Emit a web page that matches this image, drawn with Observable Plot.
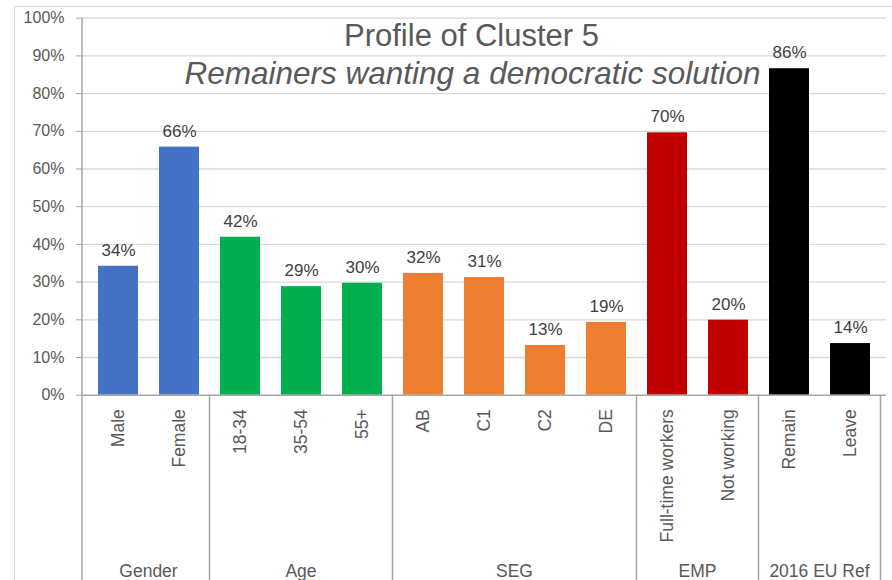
<!DOCTYPE html>
<html><head><meta charset="utf-8">
<script src="https://cdn.jsdelivr.net/npm/d3@7"></script>
<script src="https://cdn.jsdelivr.net/npm/@observablehq/plot@0.6"></script>
<style>
body{margin:0;background:#fff;}
#wrap{position:relative;width:892px;height:580px;overflow:hidden;}
#frame{position:absolute;left:14px;top:6px;width:900px;height:600px;border:1px solid #D9D9D9;box-sizing:border-box;}
#chart{position:absolute;left:0;top:0;}
</style></head><body>
<div id="wrap"><div id="frame"></div><div id="chart"></div></div>
<script>
const categories = ["Male","Female","18-34","35-54","55+","AB","C1","C2","DE","Full-time workers","Not working","Remain","Leave"];
const groupOf = ["Gender","Gender","Age","Age","Age","SEG","SEG","SEG","SEG","EMP","EMP","2016 EU Ref","2016 EU Ref"];
const values = [34.2, 65.8, 41.9, 28.8, 29.7, 32.3, 31.2, 13.2, 19.3, 69.6, 19.9, 86.6, 13.7];
const labels = ["34%","66%","42%","29%","30%","32%","31%","13%","19%","70%","20%","86%","14%"];
const groups = ["Gender","Age","SEG","EMP","2016 EU Ref"];
const groupColors = ["#4472C4","#00B050","#ED7D31","#C00000","#000000"];
const yTicks = [0,10,20,30,40,50,60,70,80,90,100];
const title = "Profile of Cluster 5";
const subtitle = "Remainers wanting a democratic solution";

const W = 892, H = 580, mL = 82, mR = 6, mT = 17.7, mB = 185.3;
const font = "'Liberation Sans',Arial,sans-serif";
const data = categories.map((c, i) => ({cat: c, group: groupOf[i], value: values[i], label: labels[i]}));

function groupMark(index, scales, vals, dims) {
  const x = scales.x, y = scales.y;
  const bw = x.bandwidth();
  const step = x.step ? x.step() : (dims.width - dims.marginLeft - dims.marginRight) / categories.length;
  const gap = (step - bw) / 2;
  const g = d3.create("svg:g");
  const y0 = y(0);
  g.append("line").attr("x1", dims.marginLeft).attr("x2", dims.marginLeft)
    .attr("y1", dims.marginTop).attr("y2", dims.height)
    .attr("stroke", "#A6A6A6").attr("stroke-width", 1.5);
  groups.forEach((grp, gi) => {
    const cats = categories.filter((c, i) => groupOf[i] === grp);
    const left = x(cats[0]) - gap;
    const right = x(cats[cats.length - 1]) + bw + gap;
    if (gi > 0) {
      g.append("line").attr("x1", left).attr("x2", left).attr("y1", y0).attr("y2", dims.height)
        .attr("stroke", "#A6A6A6").attr("stroke-width", 1.5);
    }
    if (gi === groups.length - 1) {
      g.append("line").attr("x1", right).attr("x2", right).attr("y1", y0).attr("y2", dims.height)
        .attr("stroke", "#A6A6A6").attr("stroke-width", 1.5);
    }
    g.append("text").attr("x", (left + right) / 2).attr("y", dims.height - 3.5)
      .attr("text-anchor", "middle").attr("fill", "#595959")
      .style("font-family", font).style("font-size", "17.5px").text(grp);
  });
  return g.node();
}

const plot = Plot.plot({
  width: W, height: H,
  marginLeft: mL, marginRight: mR, marginTop: mT, marginBottom: mB,
  style: {fontFamily: font, color: "#595959", background: "transparent", overflow: "visible"},
  x: {type: "band", domain: categories, paddingInner: 0.34, paddingOuter: 0.17, axis: null, label: null},
  y: {domain: [0, 100], axis: null, label: null},
  color: {domain: groups, range: groupColors},
  marks: [
    Plot.gridY(yTicks.slice(1), {stroke: "#D9D9D9", strokeOpacity: 1, strokeWidth: 1.3}),
    Plot.barY(data, {x: "cat", y: "value", fill: "group"}),
    Plot.text(data, {x: "cat", y: "value", text: "label", dy: -16, fontSize: 17, fill: "#404040"}),
    Plot.ruleY([0], {stroke: "#A6A6A6", strokeWidth: 1.5}),
    Plot.axisY({ticks: yTicks, tickFormat: d => d + "%", tickSize: 6, tickPadding: 12, fontSize: 16, stroke: "#A6A6A6", fill: "#595959", label: null}),
    Plot.axisX({tickRotate: -90, tickSize: 0, tickPadding: 14, fontSize: 17.5, fill: "#595959", label: null}),
    groupMark,
    Plot.text([title], {frameAnchor: "top", text: d => d, dx: -13, dy: 6, lineAnchor: "top", fontSize: 31, fill: "#595959"}),
    Plot.text([subtitle], {frameAnchor: "top", text: d => d, dx: -12, dy: 43.5, lineAnchor: "top", fontSize: 31.5, fontStyle: "italic", fill: "#595959"})
  ]
});
document.getElementById("chart").appendChild(plot);
</script>
</body></html>
